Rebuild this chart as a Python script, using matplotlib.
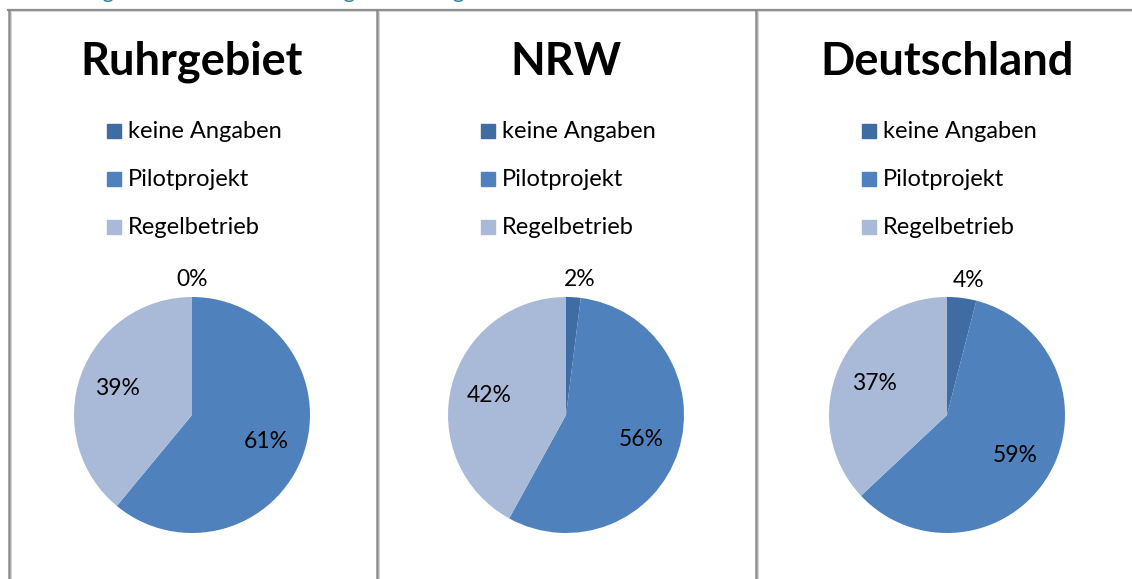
import numpy as np
import matplotlib.pyplot as plt
from matplotlib.lines import Line2D
from matplotlib.patches import Rectangle

# data
regions = ['Ruhrgebiet', 'NRW', 'Deutschland']
categories = ['keine Angaben', 'Pilotprojekt', 'Regelbetrieb']
ruhrgebiet = [0, 61, 39]
nrw = [2, 56, 42]
deutschland = [4, 59, 37]
values = [ruhrgebiet, nrw, deutschland]
colors = ['#3E6CA3', '#4F81BD', '#A9BAD8']

W, H = 1132, 579
fig = plt.figure(figsize=(W / 100, H / 100), dpi=100)
plt.rcParams['font.family'] = ['Lato', 'DejaVu Sans']

def fx(x):
    return x / W

def fy(y):
    return 1 - y / H

# cut off caption above the frames
fig.text(fx(14), fy(-2.5), 'Abbildung 4: Stand der Umsetzung in den Regionen',
         color='#31849B', fontsize=16, va='baseline', ha='left')

# panel frames
frame_col = '#8C8C8C'
fig.add_artist(Line2D([fx(8), 1], [fy(9.5), fy(9.5)], color=frame_col, lw=1.6))
fig.add_artist(Line2D([fx(8), 1], [fy(11), fy(11)], color='#D6D6D6', lw=0.8))
for xb in [9, 376.5, 755.5]:
    fig.add_artist(Line2D([fx(xb), fx(xb)], [fy(9.5), 0], color=frame_col, lw=1.8))
    fig.add_artist(Line2D([fx(xb + 2), fx(xb + 2)], [fy(11), 0], color='#D6D6D6', lw=0.8))

centers = [192, 566, 947]
cy = 415
r = 118

for reg, vals, cx in zip(regions, values, centers):
    fig.text(fx(cx), fy(62), reg, fontsize=32.5, fontweight='bold',
             ha='center', va='center', color='black')

    # legend
    for i, (cat, col) in enumerate(zip(categories, colors)):
        ly = 131 + 48 * i
        lx = cx - 85
        fig.add_artist(Rectangle((fx(lx), fy(ly + 7)), fx(14), 14 / H,
                                 color=col, transform=fig.transFigure))
        fig.text(fx(lx + 21), fy(ly), cat, fontsize=17, ha='left', va='center')

    ax = fig.add_axes([fx(cx - r), (H - cy - r) / H, fx(2 * r), 2 * r / H])
    ax.pie(vals, colors=colors, startangle=90, counterclock=False, radius=1,
           wedgeprops=dict(linewidth=0))
    ax.set_xlim(-1, 1)
    ax.set_ylim(-1, 1)
    ax.set_aspect('equal')
    ax.axis('off')

    total = sum(vals)
    start = 90.0
    for v in vals:
        span = 360.0 * v / total
        mid = np.radians(start - span / 2)
        if v < 10:
            d = 1.15
            ang = mid if v > 0 else np.radians(90)
            ax.text(d * np.cos(ang) + (0.04 if v > 0 else 0), d * np.sin(ang),
                    f'{v}%', ha='center', va='center', fontsize=16.5, clip_on=False)
        else:
            d = 0.67
            ax.text(d * np.cos(mid), d * np.sin(mid), f'{v}%',
                    ha='center', va='center', fontsize=16.5)
        start -= span

plt.savefig('out.png', dpi=100)
